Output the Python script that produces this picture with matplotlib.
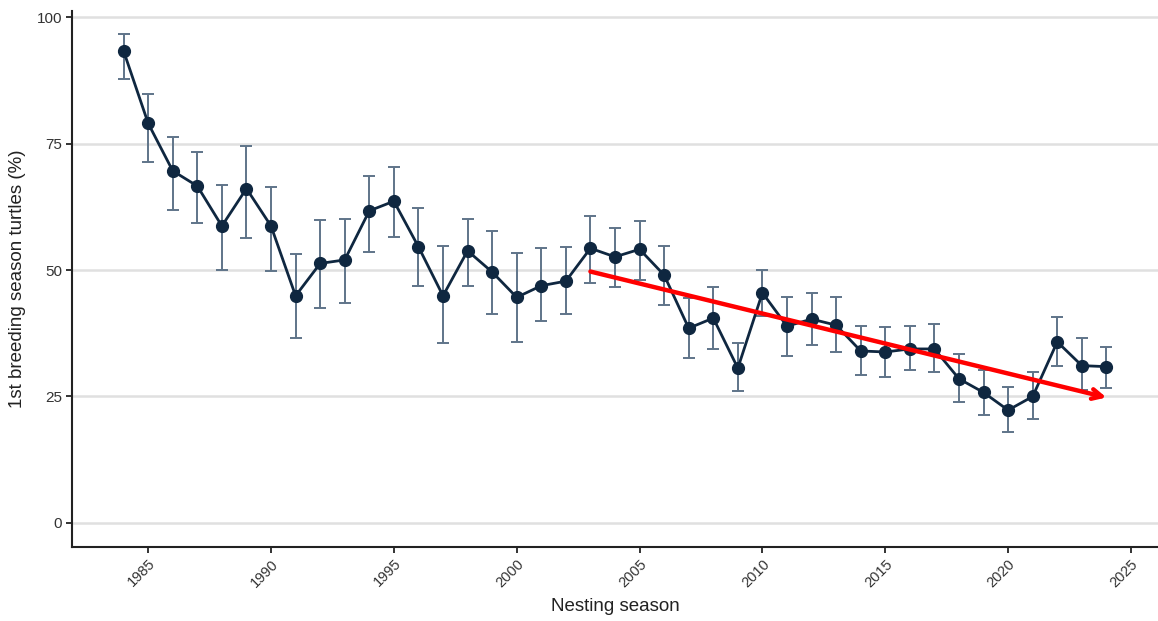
import matplotlib
matplotlib.use("Agg")
import matplotlib.pyplot as plt
import numpy as np

plt.rcParams['font.family'] = ['Liberation Sans', 'DejaVu Sans']

years = list(range(1984, 2025))
values = [93.3, 79.0, 69.6, 66.6, 58.7, 66.1, 58.7, 44.9, 51.3, 52.0,
          61.7, 63.6, 54.6, 44.9, 53.8, 49.6, 44.6, 46.9, 47.8, 54.3,
          52.6, 54.1, 49.0, 38.5, 40.5, 30.6, 45.5, 38.9, 40.3, 39.1,
          34.0, 33.8, 34.4, 34.4, 28.5, 25.8, 22.3, 25.0, 35.8, 31.1, 30.9]
upper = [96.6, 84.7, 76.3, 73.3, 66.9, 74.5, 66.5, 53.1, 59.8, 60.1,
         68.6, 70.4, 62.2, 54.8, 60.1, 57.8, 53.4, 54.3, 54.5, 60.7,
         58.3, 59.6, 54.8, 44.4, 46.6, 35.5, 50.1, 44.6, 45.4, 44.6,
         38.9, 38.7, 39.0, 39.3, 33.4, 30.2, 26.9, 29.9, 40.7, 36.6, 34.8]
lower = [87.7, 71.3, 61.9, 59.2, 50.1, 56.3, 49.8, 36.6, 42.5, 43.4,
         53.6, 56.6, 46.9, 35.5, 46.9, 41.4, 35.8, 39.9, 41.4, 47.5,
         46.6, 48.0, 43.1, 32.7, 34.3, 26.0, 41.0, 33.1, 35.1, 33.7,
         29.2, 28.9, 30.2, 29.8, 23.9, 21.3, 18.0, 20.5, 31.0, 26.3, 26.6]

trend_start = (2003, 49.7)
trend_end = (2024, 24.8)

x_ticks = [1985, 1990, 1995, 2000, 2005, 2010, 2015, 2020, 2025]
y_ticks = [0, 25, 50, 75, 100]

W, H = 1158, 621
fig = plt.figure(figsize=(W / 100, H / 100), dpi=100)
ax = fig.add_axes([72 / W, 1 - 547 / H, (W - 72) / W, (547 - 11) / H])

for y in y_ticks:
    ax.axhline(y, color='#e0e0e0', lw=1.8, zorder=0)

yerr = [np.array(values) - np.array(lower), np.array(upper) - np.array(values)]
ax.errorbar(years, values, yerr=yerr, fmt='none', ecolor='#5f7489',
            elinewidth=1.4, capsize=4.5, capthick=1.4, zorder=2)
ax.plot(years, values, color='#0f2740', lw=2.0, zorder=3)
ax.plot(years, values, 'o', color='#0f2740', ms=8.5, zorder=4)

ax.annotate('', xy=trend_end, xytext=trend_start,
            arrowprops=dict(arrowstyle='->,head_length=0.7,head_width=0.35',
                            color='#ff0000', lw=3.2, shrinkA=0, shrinkB=0),
            zorder=5)

ax.set_xlim(1981.9, 2026.1)
ax.set_ylim(-4.75, 101.2)
ax.set_xticks(x_ticks)
ax.set_yticks(y_ticks)
ax.set_xticklabels([str(t) for t in x_ticks], rotation=45, ha='right',
                   va='top', rotation_mode='anchor', fontsize=10.5, color='#333333')
ax.set_yticklabels([str(t) for t in y_ticks], fontsize=11, color='#333333')
ax.tick_params(axis='both', length=4, width=1.4, color='#333333', pad=3)

for s in ['top', 'right']:
    ax.spines[s].set_visible(False)
for s in ['left', 'bottom']:
    ax.spines[s].set_linewidth(1.5)
    ax.spines[s].set_color('#222222')

ax.set_xlabel('Nesting season', fontsize=13.5, color='#222222', labelpad=6)
ax.set_ylabel('1st breeding season turtles (%)', fontsize=13.5, color='#222222', labelpad=8)

fig.savefig('out.png', dpi=100)
